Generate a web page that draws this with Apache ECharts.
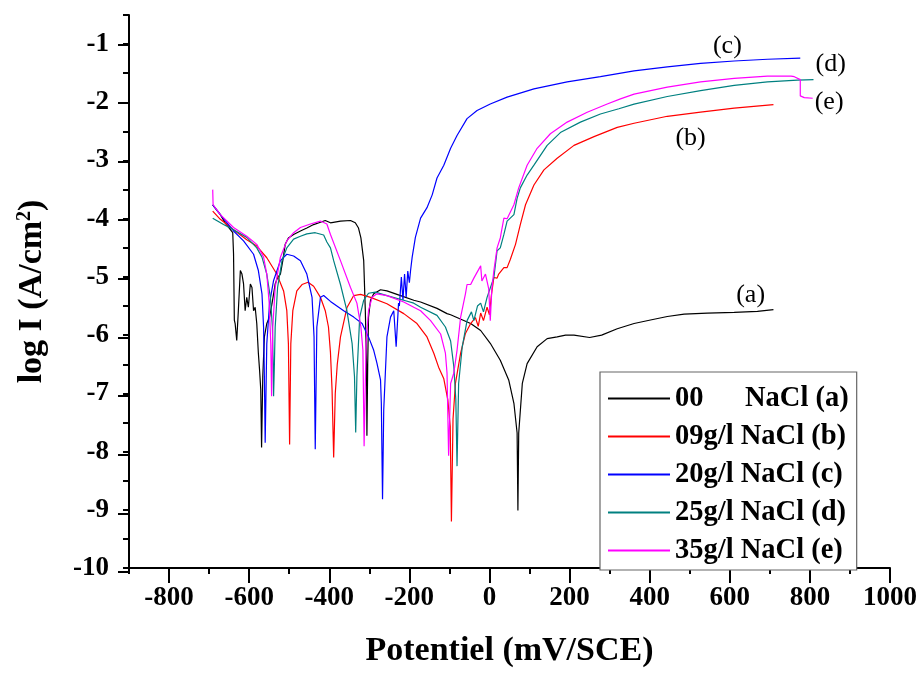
<!DOCTYPE html>
<html><head><meta charset="utf-8">
<script src="https://cdn.jsdelivr.net/npm/echarts@6/dist/echarts.min.js"></script>
<style>html,body{margin:0;padding:0;background:#fff}#c{width:921px;height:673px}</style>
</head><body><div id="c"></div>
<script>
const seriesNames = ['00 NaCl (a)', '09g/l NaCl (b)', '20g/l NaCl (c)', '25g/l NaCl (d)', '35g/l NaCl (e)'];
const seriesColors = ['#000000', '#ff0000', '#0000ff', '#008080', '#ff00ff'];

const curveA = [[-691,-3.76],[-672,-3.93],[-660,-4.07],[-641,-4.24],[-639,-4.6],[-637,-5.74],[-635,-5.80],[-631,-6.09],[-627,-5.58],[-622,-4.89],[-618,-4.95],[-614,-5.12],[-610,-5.58],[-606,-5.35],[-602,-5.52],[-597,-5.12],[-593,-5.18],[-589,-5.58],[-585,-5.52],[-581,-5.80],[-577,-6.31],[-574,-6.60],[-571,-6.94],[-569,-7.93],[-566,-6.71],[-562,-6.03],[-556,-5.80],[-549,-5.69],[-543,-5.46],[-535,-5.12],[-529,-5.01],[-522,-4.95],[-516,-4.72],[-510,-4.44],[-502,-4.33],[-489,-4.27],[-472,-4.21],[-456,-4.16],[-439,-4.10],[-422,-4.06],[-410,-4.03],[-397,-4.07],[-372,-4.04],[-347,-4.03],[-335,-4.07],[-327,-4.16],[-321,-4.33],[-314,-4.72],[-310,-5.57],[-307,-6.5],[-306,-7.73],[-304,-6.5],[-302,-5.69],[-297,-5.40],[-289,-5.29],[-272,-5.22],[-256,-5.24],[-222,-5.32],[-189,-5.40],[-172,-5.43],[-131,-5.54],[-106,-5.63],[-97,-5.65],[-47,-5.80],[-22,-5.92],[2,-6.14],[27,-6.43],[48,-6.77],[61,-7.17],[69,-7.68],[71,-9.01],[73,-7.68],[82,-6.83],[94,-6.49],[119,-6.20],[144,-6.06],[169,-6.03],[190,-6.0],[211,-6.0],[250,-6.04],[280,-6.0],[319,-5.89],[361,-5.80],[402,-5.74],[444,-5.68],[486,-5.64],[544,-5.62],[611,-5.61],[669,-5.59],[709,-5.56]];

const curveB = [[-691,-3.87],[-672,-4.01],[-639,-4.19],[-606,-4.36],[-581,-4.47],[-556,-4.67],[-531,-4.95],[-514,-5.24],[-506,-5.58],[-502,-6.15],[-499,-7.88],[-496,-6.15],[-491,-5.58],[-481,-5.24],[-468,-5.13],[-453,-5.09],[-439,-5.16],[-422,-5.35],[-410,-5.58],[-402,-5.86],[-397,-6.3],[-393,-6.94],[-389,-8.1],[-385,-7.0],[-380,-6.5],[-372,-6.03],[-356,-5.53],[-339,-5.32],[-322,-5.30],[-297,-5.35],[-256,-5.46],[-214,-5.63],[-181,-5.80],[-156,-6.03],[-139,-6.31],[-127,-6.55],[-114,-6.75],[-104,-7.11],[-98,-7.56],[-95,-9.2],[-91,-7.44],[-85,-6.83],[-72,-6.31],[-60,-5.97],[-47,-5.80],[-35,-5.7],[-28,-5.85],[-22,-5.62],[-15,-5.75],[-6,-5.52],[0,-5.65],[5,-5.3],[11,-5.01],[19,-5.02],[23,-4.95],[36,-4.84],[44,-4.84],[52,-4.7],[65,-4.44],[77,-4.10],[90,-3.76],[111,-3.42],[136,-3.16],[169,-2.96],[211,-2.74],[261,-2.59],[319,-2.43],[361,-2.36],[444,-2.24],[527,-2.17],[611,-2.10],[709,-2.04]];

const curveC = [[-691,-3.76],[-672,-3.93],[-639,-4.21],[-614,-4.38],[-589,-4.61],[-577,-4.89],[-568,-5.29],[-564,-5.86],[-562,-6.71],[-560,-7.85],[-556,-6.15],[-549,-5.45],[-539,-5.06],[-522,-4.72],[-506,-4.61],[-489,-4.64],[-472,-4.72],[-456,-4.95],[-443,-5.35],[-438,-6.03],[-435,-7.96],[-431,-5.86],[-422,-5.35],[-414,-5.32],[-397,-5.42],[-364,-5.58],[-339,-5.69],[-318,-5.80],[-302,-6.03],[-289,-6.26],[-281,-6.48],[-272,-6.77],[-270,-7.17],[-267,-8.82],[-264,-7.28],[-256,-6.03],[-247,-5.69],[-239,-5.58],[-233,-6.20],[-227,-5.45],[-225,-5.5],[-220,-5.0],[-216,-5.4],[-212,-4.95],[-208,-5.35],[-204,-4.9],[-200,-5.1],[-197,-4.89],[-193,-4.66],[-185,-4.32],[-172,-3.99],[-156,-3.81],[-143,-3.59],[-131,-3.30],[-114,-3.08],[-97,-2.79],[-81,-2.57],[-56,-2.28],[-31,-2.14],[2,-2.03],[44,-1.91],[111,-1.77],[194,-1.65],[277,-1.56],[361,-1.46],[444,-1.39],[527,-1.33],[611,-1.29],[694,-1.26],[776,-1.24]];

const curveD = [[-691,-3.99],[-664,-4.1],[-639,-4.19],[-606,-4.32],[-581,-4.50],[-568,-4.66],[-556,-4.95],[-547,-5.35],[-542,-5.86],[-540,-6.5],[-539,-7.05],[-537,-6.5],[-535,-5.86],[-529,-5.18],[-518,-4.72],[-506,-4.50],[-489,-4.35],[-472,-4.30],[-456,-4.26],[-435,-4.24],[-414,-4.28],[-406,-4.40],[-397,-4.50],[-389,-4.72],[-372,-5.13],[-356,-5.58],[-343,-6.14],[-337,-6.71],[-334,-7.67],[-331,-6.71],[-324,-5.69],[-314,-5.40],[-302,-5.28],[-285,-5.26],[-256,-5.32],[-214,-5.40],[-189,-5.45],[-172,-5.52],[-131,-5.66],[-110,-5.86],[-97,-6.1],[-89,-6.54],[-84,-7.11],[-81,-8.25],[-77,-6.83],[-68,-6.20],[-56,-5.75],[-45,-5.6],[-39,-5.75],[-30,-5.5],[-22,-5.45],[-15,-5.6],[-6,-5.35],[11,-5.01],[19,-4.55],[27,-4.50],[36,-4.27],[44,-4.04],[61,-3.93],[69,-3.65],[77,-3.47],[94,-3.25],[111,-3.08],[144,-2.74],[177,-2.52],[227,-2.34],[277,-2.20],[323,-2.11],[361,-2.03],[444,-1.90],[527,-1.80],[611,-1.71],[694,-1.65],[769,-1.62],[809,-1.61]];

const curveE = [[-691,-3.50],[-690,-3.76],[-672,-3.93],[-639,-4.15],[-606,-4.30],[-581,-4.44],[-564,-4.66],[-556,-4.95],[-550,-5.45],[-546,-6.14],[-544,-7.05],[-541,-5.86],[-535,-5.18],[-522,-4.66],[-506,-4.38],[-489,-4.24],[-472,-4.15],[-447,-4.09],[-422,-4.04],[-406,-4.09],[-397,-4.27],[-372,-4.72],[-347,-5.18],[-331,-5.45],[-321,-5.86],[-316,-6.26],[-313,-7.91],[-308,-6.14],[-302,-5.58],[-293,-5.35],[-281,-5.29],[-256,-5.32],[-214,-5.43],[-189,-5.52],[-172,-5.58],[-147,-5.75],[-122,-5.98],[-110,-6.31],[-106,-6.65],[-102,-8.07],[-97,-6.83],[-89,-6.65],[-81,-6.26],[-72,-5.69],[-60,-5.29],[-56,-5.13],[-47,-5.13],[-39,-5.02],[-22,-4.81],[-19,-5.07],[-10,-4.95],[-6,-4.95],[-2,-5.2],[2,-5.75],[6,-5.2],[11,-4.89],[19,-4.50],[27,-4.33],[36,-3.99],[44,-4.0],[61,-3.76],[73,-3.47],[94,-3.08],[119,-2.79],[152,-2.54],[194,-2.34],[244,-2.17],[294,-2.03],[327,-1.94],[361,-1.86],[444,-1.74],[527,-1.65],[611,-1.59],[694,-1.55],[753,-1.55],[761,-1.56],[776,-1.61],[776,-1.89],[786,-1.92],[807,-1.93]];

const curves = [curveA, curveB, curveC, curveD, curveE];

const xMajorTicks = [-800,-600,-400,-200,0,200,400,600,800,1000];
const yMajorTicks = [-10,-9,-8,-7,-6,-5,-4,-3,-2,-1];

const notes = [
  {text: '(a)', x: 652, y: -5.32},
  {text: '(b)', x: 502, y: -2.62},
  {text: '(c)', x: 594, y: -1.03},
  {text: '(d)', x: 852, y: -1.35},
  {text: '(e)', x: 848, y: -2.0}
];

const FF = '"Liberation Serif", "Times New Roman", serif';
const chart = echarts.init(document.getElementById('c'), null, {renderer: 'canvas'});
const gridBox = {left: 129, right: 31, top: 15, bottom: 101};

const option = {
  animation: false,
  backgroundColor: '#fff',
  grid: [Object.assign({}, gridBox), Object.assign({}, gridBox)],
  xAxis: [{
    type: 'value', gridIndex: 0, min: -900, max: 1000, interval: 100,
    name: 'Potentiel (mV/SCE)', nameLocation: 'middle', nameGap: 66,
    nameTextStyle: {fontFamily: FF, fontWeight: 'bold', fontSize: 34, color: '#000'},
    axisLine: {show: true, onZero: false, lineStyle: {color: '#000', width: 2}},
    axisTick: {show: true, length: 6, lineStyle: {color: '#000', width: 2}},
    axisLabel: {margin: 17, fontFamily: FF, fontWeight: 'bold', fontSize: 27, color: '#000',
      formatter: v => (v % 200 === 0 ? String(v) : '')},
    splitLine: {show: false}
  }, {
    type: 'value', gridIndex: 1, min: -900, max: 1000, position: 'bottom',
    axisLine: {show: false, onZero: false},
    axisTick: {show: true, length: 11, customValues: xMajorTicks, lineStyle: {color: '#000', width: 2}},
    axisLabel: {show: false},
    splitLine: {show: false}
  }],
  yAxis: [{
    type: 'value', gridIndex: 0, min: -10, max: -0.5, interval: 0.5,
    name: 'log I (A/cm{sup|2})', nameLocation: 'middle', nameGap: 80, nameRotate: 90,
    nameTextStyle: {fontFamily: FF, fontWeight: 'bold', fontSize: 34, color: '#000',
      rich: {sup: {fontFamily: FF, fontWeight: 'bold', fontSize: 20, color: '#000', verticalAlign: 'top'}}},
    axisLine: {show: true, onZero: false, lineStyle: {color: '#000', width: 2}},
    axisTick: {show: true, length: 6, lineStyle: {color: '#000', width: 2}},
    axisLabel: {margin: 20, fontFamily: FF, fontWeight: 'bold', fontSize: 27, color: '#000',
      formatter: v => (Number.isInteger(v) ? String(v) : '')},
    splitLine: {show: false}
  }, {
    type: 'value', gridIndex: 1, min: -10, max: -0.5, position: 'left',
    axisLine: {show: false, onZero: false},
    axisTick: {show: true, length: 11, customValues: yMajorTicks, lineStyle: {color: '#000', width: 2}},
    axisLabel: {show: false},
    splitLine: {show: false}
  }],
  legend: {
    left: 600, top: 372, orient: 'vertical', icon: 'rect', itemWidth: 62, itemHeight: 2, itemGap: 9,
    padding: [12, 8, 5, 8], borderColor: '#666', borderWidth: 1.2, backgroundColor: '#fff',
    data: seriesNames,
    textStyle: {fontFamily: FF, fontWeight: 'bold', fontSize: 28.5, color: '#000', lineHeight: 28,
      rich: {w: {width: 70, fontFamily: FF, fontWeight: 'bold', fontSize: 28.5, color: '#000'}}},
    formatter: name => (name.indexOf('00 ') === 0 ? '{w|00}' + name.slice(3) : name)
  },
  series: curves.map((d, i) => ({
    name: seriesNames[i], type: 'line', xAxisIndex: 0, yAxisIndex: 0,
    data: d, showSymbol: false, symbol: 'none',
    lineStyle: {color: seriesColors[i], width: 1.2},
    itemStyle: {color: seriesColors[i]},
    z: 2 + i
  }))
};
chart.setOption(option);

const graphics = notes.map(n => {
  const p = chart.convertToPixel({gridIndex: 0}, [n.x, n.y]);
  return {type: 'text', x: p[0], y: p[1], z: 100,
    style: {text: n.text, font: '26px ' + FF, fill: '#000', align: 'center', verticalAlign: 'middle'}};
});
chart.setOption({graphic: graphics});
</script>
</body></html>
